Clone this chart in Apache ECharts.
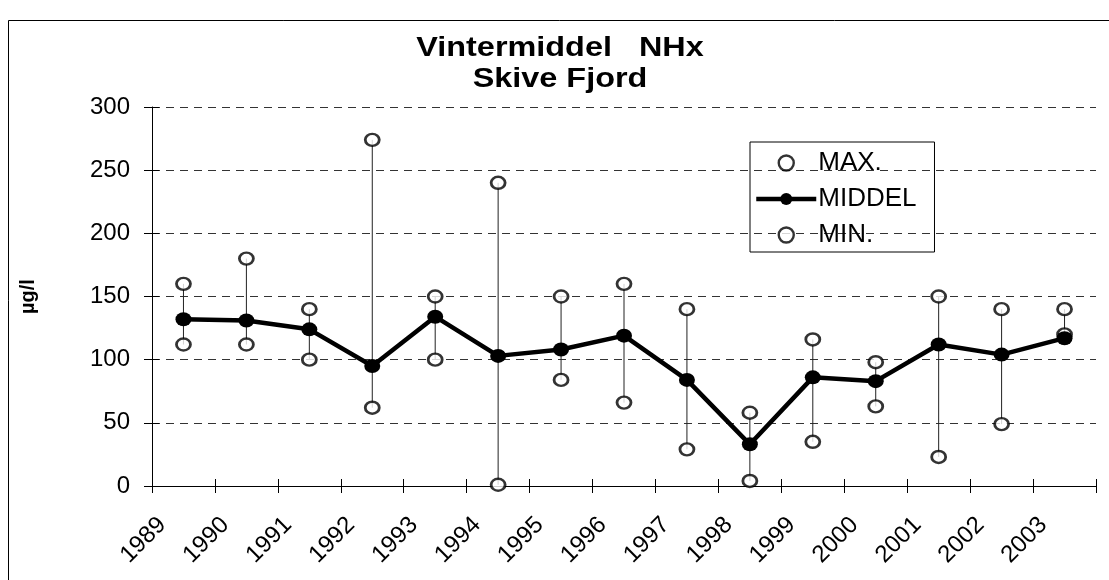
<!DOCTYPE html>
<html>
<head>
<meta charset="utf-8">
<script src="https://cdn.jsdelivr.net/npm/echarts@6/dist/echarts.min.js"></script>
<style>
html,body{margin:0;padding:0;background:#fff;}
#c{width:1109px;height:580px;}
</style>
</head>
<body>
<div id="c"></div>
<script>
const years = ['1989','1990','1991','1992','1993','1994','1995','1996','1997','1998','1999','2000','2001','2002','2003'];
const maxVals = [160,180,140,274,150,240,150,160,140,58,116,98,150,140,140];
const midVals = [132,131,124,95,134,103,108,119,84,33,86,83,112,104,117];
const minVals = [112,112,100,62,100,1,84,66,29,4,35,63,23,49,120];
const yTicks = [0,50,100,150,200,250,300];
const titleLines = ['Vintermiddel   NHx', 'Skive Fjord'];

const FONT = 'Liberation Sans, Arial, sans-serif';
const chart = echarts.init(document.getElementById('c'), null, {renderer:'canvas'});
const hiLo = years.map((y,i)=>[i, minVals[i], maxVals[i]]);
const openCircle = {color:'#fff', borderColor:'#000', borderWidth:2.4};

const option = {
  animation:false,
  backgroundColor:'#fff',
  graphic:[
    {type:'rect', shape:{x:8.5,y:20.5,width:1120,height:600}, style:{fill:'none', stroke:'#000', lineWidth:1}, z:-10},
    {type:'text', x:560, y:49, scaleX:1.2, style:{text:titleLines[0], font:'bold 27px '+FONT, fill:'#000', textAlign:'center', textVerticalAlign:'middle'}},
    {type:'text', x:560, y:80, scaleX:1.2, style:{text:titleLines[1], font:'bold 27px '+FONT, fill:'#000', textAlign:'center', textVerticalAlign:'middle'}}
  ],
  legend:{
    orient:'vertical', left:750, top:142,
    data:[
      {name:'MAX.', icon:'circle', itemStyle:openCircle},
      {name:'MIDDEL', lineStyle:{width:4.5, color:'#000'}, itemStyle:{color:'#000'}},
      {name:'MIN.', icon:'circle', itemStyle:openCircle}
    ],
    itemWidth:60, itemHeight:15, itemGap:10,
    borderColor:'#000', borderWidth:1, borderRadius:0,
    padding:[8,18,4,4],
    textStyle:{fontFamily:FONT, fontSize:26, color:'#000', padding:[0,0,0,-3]}
  },
  grid:{left:152, right:13, top:107, bottom:94, containLabel:false},
  xAxis:[{
    type:'category', data:years, boundaryGap:true,
    axisLine:{show:true, lineStyle:{color:'#000', width:1}},
    axisTick:{show:true, length:7, lineStyle:{color:'#000'}},
    axisLabel:{rotate:45, margin:14, padding:[0,30,0,0], fontFamily:FONT, fontSize:24, color:'#000', interval:0},
    splitLine:{show:false}
  },{
    type:'category', data:years, boundaryGap:true, position:'bottom',
    axisLine:{show:false}, axisTick:{show:true, inside:true, length:7, lineStyle:{color:'#000'}},
    axisLabel:{show:false}, splitLine:{show:false}
  }],
  yAxis:[{
    type:'value', min:0, max:300, interval:50,
    name:'µg/l', nameLocation:'middle', nameGap:114, nameRotate:90,
    nameTextStyle:{fontFamily:FONT, fontWeight:'bold', fontSize:20, color:'#000'},
    axisLine:{show:true, lineStyle:{color:'#000', width:1}},
    axisTick:{show:true, length:8, lineStyle:{color:'#000'}},
    axisLabel:{margin:22, fontFamily:FONT, fontSize:24, color:'#000', formatter:v=>yTicks.includes(v)?String(v):''},
    splitLine:{show:true, lineStyle:{color:'#333', width:1, type:[8,6]}}
  },{
    type:'value', min:0, max:300, interval:50, position:'left',
    axisLine:{show:false}, axisTick:{show:true, inside:true, length:7, lineStyle:{color:'#000'}},
    axisLabel:{show:false}, splitLine:{show:false}
  }],
  series:[
    {type:'custom', name:'hilo', xAxisIndex:0, yAxisIndex:0, data:hiLo, encode:{x:0, y:[1,2]}, z:1,
     renderItem:(params, api)=>{
       const p1 = api.coord([api.value(0), api.value(1)]);
       const p2 = api.coord([api.value(0), api.value(2)]);
       return {type:'line', shape:{x1:p1[0], y1:p1[1], x2:p2[0], y2:p2[1]}, style:{stroke:'#222', lineWidth:1}};
     }},
    {type:'scatter', name:'MAX.', data:maxVals, symbol:'circle', symbolSize:[14,12], z:3,
     itemStyle:{color:'#fff', borderColor:'#000', borderWidth:2.6}},
    {type:'scatter', name:'MIN.', data:minVals, symbol:'circle', symbolSize:[14,12], z:3,
     itemStyle:{color:'#fff', borderColor:'#000', borderWidth:2.6}},
    {type:'line', name:'MIDDEL', data:midVals, symbol:'circle', symbolSize:[16,14], z:5,
     lineStyle:{color:'#000', width:4.5}, itemStyle:{color:'#000'}}
  ]
};
chart.setOption(option);
</script>
</body>
</html>
